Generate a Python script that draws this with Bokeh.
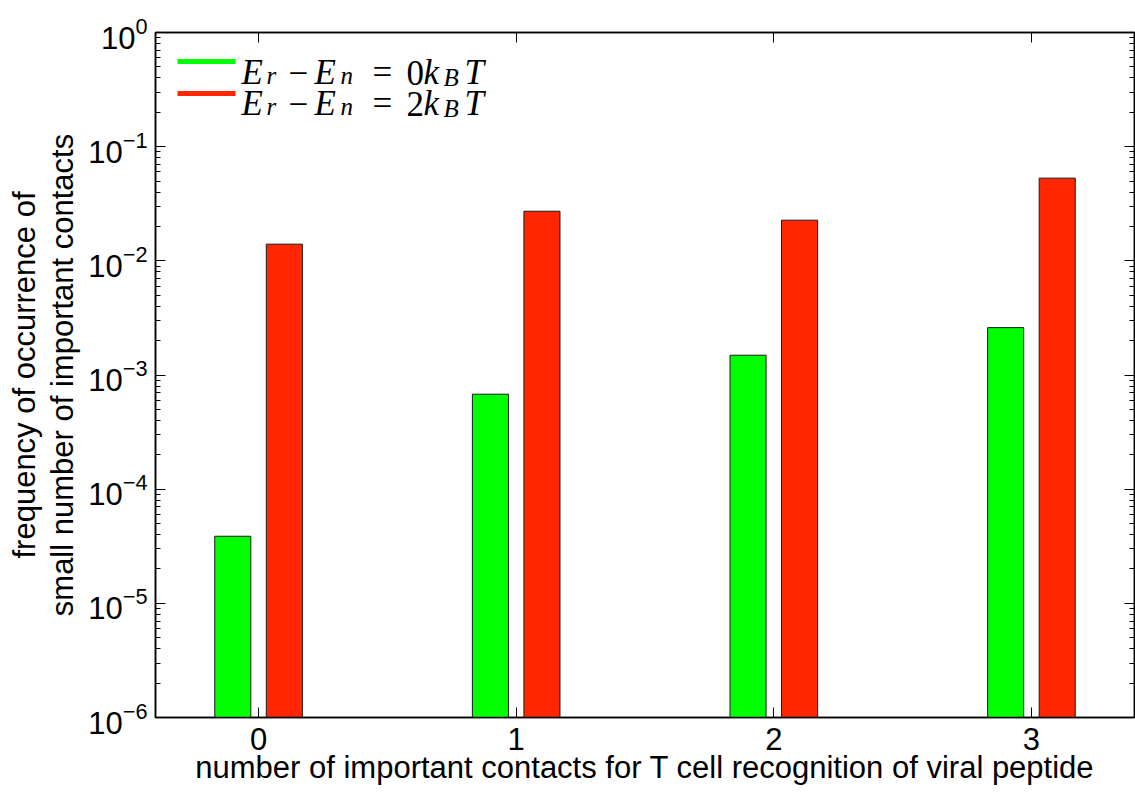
import math
from bokeh.plotting import figure
from bokeh.models import (FixedTicker, LinearAxis, LogAxis, Label, Arrow, Title,
                          ColumnDataSource, Range1d)
from bokeh.transform import dodge
from bokeh.embed import file_html
from bokeh.resources import INLINE

# ---- data ----
contacts = [0, 1, 2, 3]
freq_0kBT = [3.87e-5, 6.79e-4, 1.49e-3, 2.6e-3]   # E_r - E_n = 0 k_B T (green)
freq_2kBT = [0.0140, 0.0272, 0.0227, 0.053]       # E_r - E_n = 2 k_B T (red)
x_ticks = [0, 1, 2, 3]
y_decades = [-6, -5, -4, -3, -2, -1, 0]
x_label = "number of important contacts for T cell recognition of viral peptide"
y_label_1 = "frequency of occurrence of"
y_label_2 = "small number of important contacts"

GREEN = "#00ff00"
RED = "#ff2600"
W, H = 1135, 794
FL, FT, FR, FB = 155, 32, 1134, 717  # frame edges (px)

src = ColumnDataSource(dict(x=contacts, g=freq_0kBT, r=freq_2kBT,
                            base=[1e-6] * len(contacts)))

p = figure(width=W, height=H, y_axis_type="log",
           x_range=Range1d(-0.4, 3.4), y_range=Range1d(1e-6, 1e0),
           output_backend="svg", toolbar_location=None,
           min_border_left=FL, min_border_right=W - FR,
           min_border_top=FT, min_border_bottom=H - FB)
p.background_fill_color = "white"
p.border_fill_color = "white"
p.outline_line_color = "black"
p.outline_line_width = 1.5
p.xgrid.visible = False
p.ygrid.visible = False

p.vbar(x=dodge("x", -0.1), top="g", bottom="base", width=0.14, source=src,
       fill_color=GREEN, line_color="#1a1a1a", line_width=1)
p.vbar(x=dodge("x", 0.1), top="r", bottom="base", width=0.14, source=src,
       fill_color=RED, line_color="#1a1a1a", line_width=1)

major = [10.0 ** d for d in y_decades]
minor = [k * 10.0 ** d for d in y_decades[:-1] for k in range(2, 10)]

FONT = "Liberation Sans"
LABEL_SIZE = "31px"

def style_axis(ax, labels=True):
    ax.axis_line_color = "black"
    ax.axis_line_width = 1.5
    ax.major_tick_in = 10
    ax.major_tick_out = 0
    ax.minor_tick_in = 5
    ax.minor_tick_out = 0
    ax.major_tick_line_color = "black"
    ax.minor_tick_line_color = "black"
    ax.major_tick_line_width = 1
    ax.minor_tick_line_width = 1
    if labels:
        ax.major_label_text_font = FONT
        ax.major_label_text_font_size = "31px"
        ax.major_label_text_color = "black"
    else:
        ax.major_label_text_color = None
        ax.major_label_text_font_size = "0px"
        ax.major_label_standoff = 0

xa = p.below[0]
ya = p.left[0]
xa.ticker = FixedTicker(ticks=x_ticks)
ya.ticker = FixedTicker(ticks=major, minor_ticks=minor)
style_axis(xa)
style_axis(ya)
xa.major_label_standoff = 10
ya.major_label_standoff = 8

xa.axis_label = x_label
xa.axis_label_text_font = FONT
xa.axis_label_text_font_size = LABEL_SIZE
xa.axis_label_text_font_style = "normal"
xa.axis_label_text_color = "black"
xa.axis_label_standoff = -3

ya.axis_label = y_label_2
ya.axis_label_text_font = FONT
ya.axis_label_text_font_size = LABEL_SIZE
ya.axis_label_text_font_style = "normal"
ya.axis_label_text_color = "black"
ya.axis_label_standoff = 5

top_ax = LinearAxis(ticker=FixedTicker(ticks=x_ticks))
style_axis(top_ax, labels=False)
p.add_layout(top_ax, "above")
right_ax = LogAxis(ticker=FixedTicker(ticks=major, minor_ticks=minor))
style_axis(right_ax, labels=False)
p.add_layout(right_ax, "right")

p.add_layout(Title(text=y_label_1, align="center", text_font=FONT,
                   text_font_size=LABEL_SIZE, text_font_style="normal",
                   text_color="black", standoff=1), "left")

# legend (math-style text composed from pieces)
def sx(px):
    return px - FL

def sy(py):
    return FB - py

MAIN = "35px"
SUB = "25px"
SERIF = "Liberation Serif"

def legend_entry(color, num, base_y, line_y):
    p.add_layout(Arrow(x_start=sx(177), y_start=sy(line_y), x_end=sx(235), y_end=sy(line_y),
                       start_units="screen", end_units="screen", end=None,
                       line_color=color, line_width=5))
    pieces = [
        ("E", 241, 0, MAIN, "italic"),
        ("r", 266, 3, SUB, "italic"),
        ("\u2212", 288, 0, MAIN, "normal"),
        ("E", 314, 0, MAIN, "italic"),
        ("n", 340, 3, SUB, "italic"),
        ("=", 372, 0, MAIN, "normal"),
        (num, 406, 0, MAIN, "normal"),
        ("k", 423, 0, MAIN, "italic"),
        ("B", 443, 5, SUB, "italic"),
        ("T", 464, 0, MAIN, "italic"),
    ]
    for t, x, dy, fs, st in pieces:
        p.add_layout(Label(x=sx(x), y=sy(base_y + dy), x_units="screen", y_units="screen",
                           text=t, text_font=SERIF, text_font_size=fs,
                           text_font_style=st, text_align="left",
                           text_baseline="alphabetic", text_color="black"))

legend_entry(GREEN, "0", 72, 61)
legend_entry(RED, "2", 103, 93)

open("out.html", "w").write(file_html(p, INLINE))
